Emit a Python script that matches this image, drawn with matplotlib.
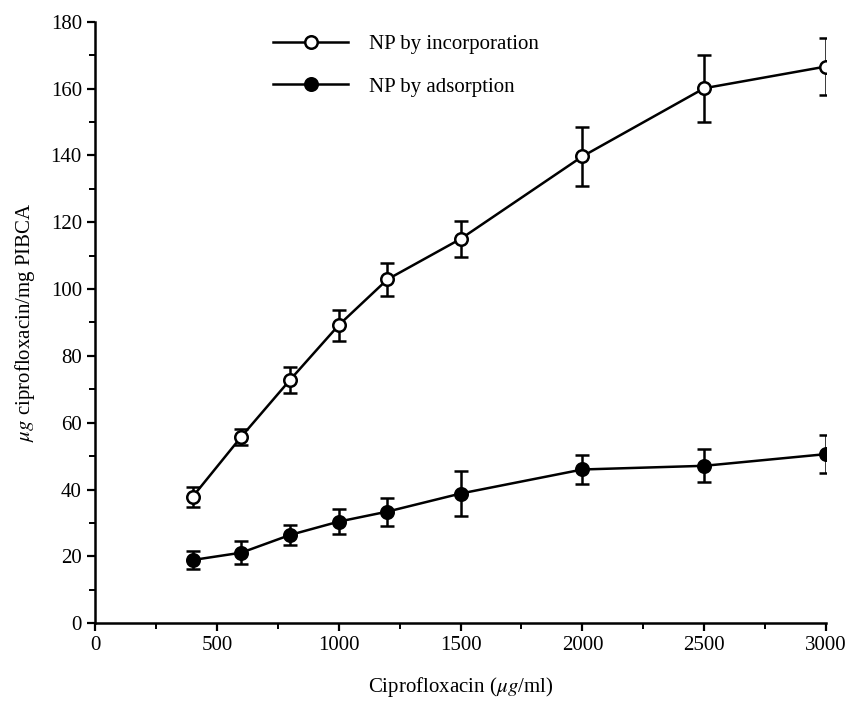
import matplotlib
matplotlib.use('Agg')
import matplotlib.pyplot as plt
from matplotlib.ticker import MultipleLocator

plt.rcParams['font.family'] = ['Liberation Serif', 'DejaVu Serif']
plt.rcParams['mathtext.fontset'] = 'stix'

# ciprofloxacin concentration (ug/ml)
conc = [400, 600, 800, 1000, 1200, 1500, 2000, 2500, 3000]
# NP by incorporation
incorp = [37.8, 55.8, 72.8, 89.2, 102.9, 115.0, 139.7, 160.1, 166.6]
incorp_err = [3.0, 2.4, 3.9, 4.6, 5.0, 5.5, 8.8, 10.0, 8.4]
# NP by adsorption
adsorp = [18.9, 21.1, 26.4, 30.4, 33.4, 38.8, 46.0, 47.1, 50.6]
adsorp_err = [2.7, 3.4, 3.0, 3.7, 4.2, 6.6, 4.4, 4.9, 5.6]

fig = plt.figure(figsize=(8.49, 7.01), dpi=100)
ax = fig.add_axes([0.112, 0.111, 0.861, 0.858])

ax.errorbar(conc, incorp, yerr=incorp_err, color='black', lw=1.8,
            marker='o', markersize=9, markerfacecolor='white', markeredgewidth=1.8,
            capsize=5, capthick=1.8, elinewidth=1.8, label='NP by incorporation')
ax.errorbar(conc, adsorp, yerr=adsorp_err, color='black', lw=1.8,
            marker='o', markersize=9, markerfacecolor='black', markeredgewidth=1.8,
            capsize=5, capthick=1.8, elinewidth=1.8, label='NP by adsorption')

ax.set_xlim(0, 3000)
ax.set_ylim(0, 180)
ax.xaxis.set_major_locator(MultipleLocator(500))
ax.xaxis.set_minor_locator(MultipleLocator(250))
ax.yaxis.set_major_locator(MultipleLocator(20))
ax.yaxis.set_minor_locator(MultipleLocator(10))

for s in ['top', 'right']:
    ax.spines[s].set_visible(False)
for s in ['left', 'bottom']:
    ax.spines[s].set_linewidth(1.8)
ax.tick_params(which='major', direction='out', length=6, width=1.6, labelsize=15)
ax.tick_params(which='minor', direction='out', length=4, width=1.4)

ax.set_xlabel(r'Ciprofloxacin ($\mu g$/ml)', fontsize=15, labelpad=14)
ax.set_ylabel(r'$\mu g$ ciprofloxacin/mg PIBCA', fontsize=15, labelpad=10)

# legend handles without the error bars
handles, labels = ax.get_legend_handles_labels()
handles = [h[0] for h in handles]
ax.legend(handles, labels, loc='upper left', bbox_to_anchor=(0.218, 1.01),
          frameon=False, fontsize=15, handlelength=3.6, handletextpad=1.0,
          labelspacing=1.1)

fig.savefig('out.png', dpi=100)
